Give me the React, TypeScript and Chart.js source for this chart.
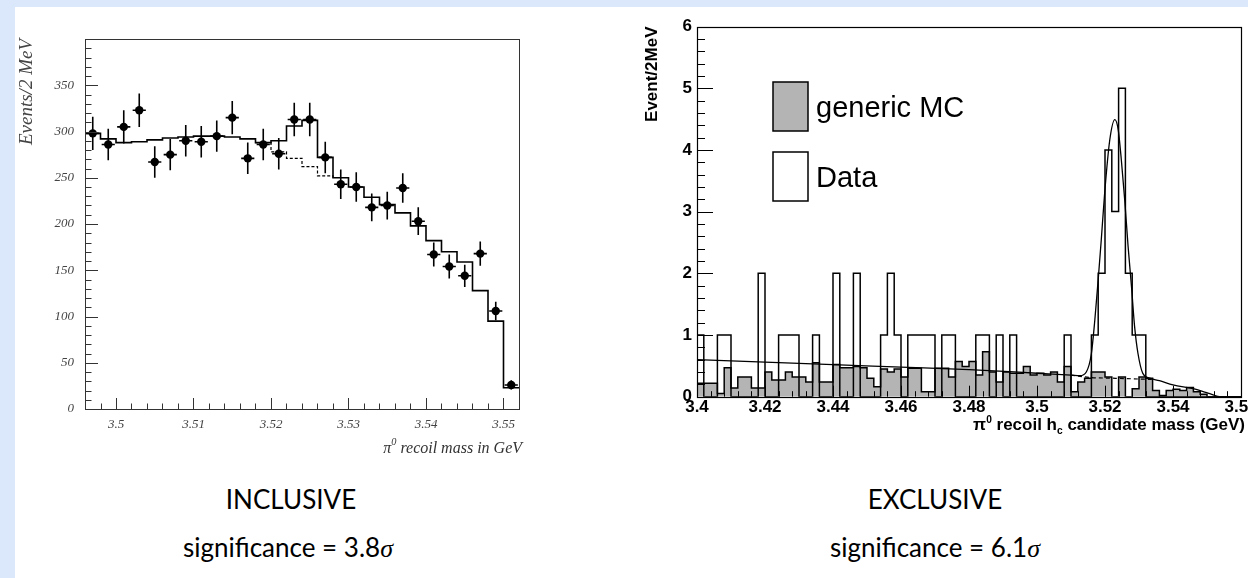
import React, { useEffect, useRef } from 'react';
import { Chart, registerables } from 'chart.js';

Chart.register(...registerables);

// ---------------- INCLUSIVE (left) ----------------
const INC_X = [3.497, 3.499, 3.501, 3.503, 3.505, 3.507, 3.509, 3.511, 3.513, 3.515, 3.517, 3.519, 3.521, 3.523, 3.525, 3.527, 3.529, 3.531, 3.533, 3.535, 3.537, 3.539, 3.541, 3.543, 3.545, 3.547, 3.549, 3.551];
const INC_DATA = [298, 286, 305, 323, 267, 275, 290, 289, 295, 315, 271, 286, 276, 313, 313, 272, 243, 240, 218, 220, 239, 203, 167, 154, 144, 168, 106, 26];
const INC_ERR = [18, 17, 18, 18, 17, 17, 17, 17, 17, 18, 17, 17, 17, 18, 18, 17, 16, 16, 15, 15, 16, 15, 13, 13, 12, 13, 10, 5];
const INC_FIT = [298, 292, 288, 289, 291, 293, 294, 295, 295, 294, 292, 288, 290, 306, 312, 272, 250, 240, 229, 221, 212, 198, 182, 170, 159, 128, 95, 23];
const INC_BKG_X = [3.518, 3.52, 3.522, 3.524, 3.526, 3.528];
const INC_BKG = [288, 278, 271, 262, 252, 250];
const INC_X_TICKS = [3.5, 3.51, 3.52, 3.53, 3.54, 3.55];
const INC_Y_TICKS = [0, 50, 100, 150, 200, 250, 300, 350];
const INC_HALF_BIN = 0.001;
const INC_XERR = 0.00085;

// ---------------- EXCLUSIVE (right) ----------------
const EXC_X_MIN = 3.4;
const EXC_BIN = 0.002;
const EXC_DATA = [
  1, 0, 0, 1, 1, 0, 0, 0, 0, 2,
  0, 0, 1, 1, 1, 0, 0, 1, 0, 0,
  2, 0, 0, 2, 0, 0, 0, 1, 2, 1,
  0, 1, 1, 1, 1, 0, 1, 1, 0, 0,
  0, 1, 1, 0, 1, 0, 1, 0, 0, 0,
  0, 0, 0, 0, 1, 0, 0, 0, 1, 2,
  4, 3, 5, 2, 1, 1, 0, 0, 0, 0,
  0, 0, 0, 0, 0, 0, 0, 0, 0, 0,
];
const EXC_MC = [
  0.22, 0.22, 0.22, 0.05, 0.47, 0.14, 0.32, 0.32, 0.14, 0.14,
  0.40, 0.27, 0.27, 0.40, 0.32, 0.32, 0.24, 0.55, 0.24, 0.24,
  0.52, 0.47, 0.47, 0.49, 0.47, 0.30, 0.16, 0.45, 0.40, 0.45,
  0.32, 0.46, 0.46, 0.08, 0.08, 0.46, 0.46, 0.32, 0.57, 0.49,
  0.57, 0.35, 0.73, 0.40, 0.24, 0.40, 0.38, 0.38, 0.49, 0.35,
  0.38, 0.35, 0.40, 0.24, 0.49, 0.08, 0.24, 0.30, 0.40, 0.40,
  0.32, 0.00, 0.32, 0.00, 0.13, 0.32, 0.30, 0.10, 0.02, 0.10,
  0.12, 0.10, 0.15, 0.08, 0.04, 0.00, 0.00, 0.00, 0.00, 0.00,
];
const EXC_FIT_X = [3.4, 3.42, 3.44, 3.46, 3.48, 3.5, 3.51, 3.5126, 3.5145, 3.516, 3.517, 3.518, 3.5189, 3.5199, 3.5214, 3.5229, 3.5239, 3.5248, 3.5258, 3.5268, 3.5278, 3.5287, 3.5297, 3.5311, 3.5331, 3.536, 3.54, 3.5459, 3.5499, 3.5518, 3.5537, 3.56];
const EXC_FIT_Y = [0.6, 0.56, 0.52, 0.48, 0.44, 0.38, 0.35, 0.34, 0.4, 0.7, 1.24, 1.9, 2.54, 3.3, 4.16, 4.49, 4.32, 3.84, 3.19, 2.43, 1.78, 1.14, 0.7, 0.38, 0.3, 0.26, 0.19, 0.13, 0.065, 0.03, 0, 0];
const EXC_BKG_X = [3.51, 3.516, 3.522, 3.528, 3.534];
const EXC_BKG_Y = [0.35, 0.31, 0.3, 0.29, 0.28];
const EXC_X_TICKS = [3.4, 3.42, 3.44, 3.46, 3.48, 3.5, 3.52, 3.54, 3.56];
const EXC_Y_TICKS = [0, 1, 2, 3, 4, 5, 6];
const LEGEND_LABELS = ['generic MC', 'Data'];

const SERIF = "'Liberation Serif', 'DejaVu Serif', serif";
const SANS = "'Liberation Sans', Arial, sans-serif";
const MC_GREY = '#b4b4b4';

const steps = (a: number, b: number, s: number) =>
  Array.from({ length: Math.round((b - a) / s) + 1 }, (_, i) => +(a + i * s).toFixed(6));

function histPoints(start: number, bin: number, values: number[]) {
  const pts: { x: number; y: number }[] = [{ x: start, y: 0 }];
  values.forEach((v, i) => pts.push({ x: start + i * bin, y: v }));
  const end = start + values.length * bin;
  pts.push({ x: end, y: values[values.length - 1] });
  pts.push({ x: end, y: 0 });
  return pts;
}

type TickCfg = {
  color: string; frameWidth: number;
  xMajor: number[]; xMajorLen: number; xMinor: number[]; xMinorLen: number;
  yMajor: number[]; yMajorLen: number; yMinor: number[]; yMinorLen: number;
};

function makeInnerTicks(o: TickCfg) {
  return {
    id: 'innerTicks',
    afterDatasetsDraw(chart: any) {
      const { ctx, chartArea: a, scales } = chart;
      ctx.save();
      ctx.strokeStyle = o.color;
      ctx.lineWidth = 1;
      ctx.beginPath();
      const xs: [number[], number][] = [[o.xMajor, o.xMajorLen], [o.xMinor, o.xMinorLen]];
      xs.forEach(([vals, len]) => vals.forEach((v) => {
        const p = Math.round(scales.x.getPixelForValue(v)) + 0.5;
        ctx.moveTo(p, a.bottom);
        ctx.lineTo(p, a.bottom - len);
      }));
      const ys: [number[], number][] = [[o.yMajor, o.yMajorLen], [o.yMinor, o.yMinorLen]];
      ys.forEach(([vals, len]) => vals.forEach((v) => {
        const p = Math.round(scales.y.getPixelForValue(v)) + 0.5;
        ctx.moveTo(a.left, p);
        ctx.lineTo(a.left + len, p);
      }));
      ctx.stroke();
      ctx.lineWidth = o.frameWidth;
      ctx.strokeRect(Math.round(a.left) + 0.5, Math.round(a.top) + 0.5, Math.round(a.right - a.left), Math.round(a.bottom - a.top));
      ctx.restore();
    },
  };
}

type Seg = { text: string; k?: number; sh?: number };
type RichCfg = { color: string; style: string; weight: string; size: number; family: string; dx: number; dy: number; segments: Seg[] };

function makeRichTitle(o: RichCfg) {
  return {
    id: 'richTitle',
    afterDraw(chart: any) {
      const { ctx, chartArea: a } = chart;
      const font = (k: number) => `${o.style} ${o.weight} ${(o.size * k).toFixed(1)}px ${o.family}`;
      ctx.save();
      ctx.fillStyle = o.color;
      ctx.textBaseline = 'alphabetic';
      ctx.textAlign = 'left';
      let total = 0;
      o.segments.forEach((s) => { ctx.font = font(s.k ?? 1); total += ctx.measureText(s.text).width; });
      let x = a.right + o.dx - total;
      const y = a.bottom + o.dy;
      o.segments.forEach((s) => {
        ctx.font = font(s.k ?? 1);
        ctx.fillText(s.text, x, y + (s.sh ?? 0) * o.size);
        x += ctx.measureText(s.text).width;
      });
      ctx.restore();
    },
  };
}

type LegendCfg = { x: number; y: number; w: number; h: number; gap: number; textGap: number; size: number; items: { label: string; fill: string }[] };

function makeBoxLegend(o: LegendCfg) {
  return {
    id: 'boxLegend',
    afterDatasetsDraw(chart: any) {
      const { ctx, chartArea: a } = chart;
      ctx.save();
      o.items.forEach((it, i) => {
        const x = a.left + o.x;
        const y = a.top + o.y + i * o.gap;
        ctx.fillStyle = it.fill;
        ctx.fillRect(x, y, o.w, o.h);
        ctx.strokeStyle = '#000';
        ctx.lineWidth = 1.5;
        ctx.strokeRect(x, y, o.w, o.h);
        ctx.fillStyle = '#000';
        ctx.font = `${o.size}px ${SANS}`;
        ctx.textBaseline = 'alphabetic';
        ctx.textAlign = 'left';
        ctx.fillText(it.label, x + o.w + o.textGap, y + o.h / 2 + o.size * 0.36);
      });
      ctx.restore();
    },
  };
}

function InclusiveChart() {
  const ref = useRef<HTMLCanvasElement>(null);
  useEffect(() => {
    const pts = INC_X.map((x, i) => ({ x, y: INC_DATA[i] }));
    const vErr: any[] = [];
    const hErr: any[] = [];
    INC_X.forEach((x, i) => {
      vErr.push({ x, y: INC_DATA[i] - INC_ERR[i] }, { x, y: INC_DATA[i] + INC_ERR[i] }, { x, y: NaN });
      hErr.push({ x: x - INC_XERR, y: INC_DATA[i] }, { x: x + INC_XERR, y: INC_DATA[i] }, { x, y: NaN });
    });
    const fit = INC_X.map((x, i) => ({ x: x - INC_HALF_BIN, y: INC_FIT[i] }));
    fit.push({ x: INC_X[INC_X.length - 1] + INC_HALF_BIN, y: INC_FIT[INC_FIT.length - 1] });
    const bkg = INC_BKG_X.map((x, i) => ({ x, y: INC_BKG[i] }));
    const tickFont = { family: SERIF, style: 'italic' as const, size: 13 };
    const chart = new Chart(ref.current!, {
      type: 'line',
      data: {
        datasets: [
          { data: pts, showLine: false, pointRadius: 4.2, pointBackgroundColor: '#000', pointBorderWidth: 0, pointStyle: 'circle' },
          { data: vErr, borderColor: '#000', borderWidth: 1.6, pointRadius: 0, spanGaps: false },
          { data: hErr, borderColor: '#000', borderWidth: 1.6, pointRadius: 0, spanGaps: false },
          { data: fit, borderColor: '#000', borderWidth: 1.6, pointRadius: 0, stepped: true },
          { data: bkg, borderColor: '#000', borderWidth: 1.2, borderDash: [3, 2], pointRadius: 0, stepped: true },
        ] as any,
      },
      options: {
        animation: false,
        responsive: false,
        events: [],
        layout: { padding: { left: 0, top: 39, right: 41, bottom: 11 } },
        plugins: { legend: { display: false }, tooltip: { enabled: false } },
        scales: {
          x: {
            type: 'linear', min: 3.496, max: 3.552, bounds: 'data',
            grid: { display: false, drawTicks: false }, border: { display: false },
            ticks: { padding: 8, font: tickFont, color: '#444', maxRotation: 0, autoSkip: false, callback: (v: any) => String(+(+v).toFixed(3)) },
            afterBuildTicks: (s: any) => { s.ticks = INC_X_TICKS.map((value) => ({ value })); },
            afterFit: (s: any) => { s.height = 50; s.paddingLeft = 0; s.paddingRight = 0; },
          },
          y: {
            type: 'linear', min: 0, max: 400, bounds: 'data',
            grid: { display: false, drawTicks: false }, border: { display: false },
            ticks: { padding: 11, font: tickFont, color: '#444', autoSkip: false, callback: (v: any) => String(v) },
            afterBuildTicks: (s: any) => { s.ticks = INC_Y_TICKS.map((value) => ({ value })); },
            afterFit: (s: any) => { s.width = 85; s.paddingTop = 0; s.paddingBottom = 0; },
            title: { display: true, text: 'Events/2 MeV', align: 'end', color: '#444', font: { family: SERIF, style: 'italic', size: 19 }, padding: { top: 16, bottom: 0 } },
          },
        } as any,
      },
      plugins: [
        makeInnerTicks({
          color: '#333', frameWidth: 1,
          xMajor: INC_X_TICKS, xMajorLen: 11, xMinor: steps(3.496, 3.552, 0.002), xMinorLen: 5.5,
          yMajor: [...INC_Y_TICKS, 400], yMajorLen: 13, yMinor: steps(0, 400, 10), yMinorLen: 6.5,
        }),
        makeRichTitle({
          color: '#333', style: 'italic', weight: 'normal', size: 16, family: SERIF, dx: 3, dy: 43.5,
          segments: [{ text: 'π' }, { text: '0', k: 0.65, sh: -0.45 }, { text: ' recoil mass in GeV' }],
        }),
      ],
    });
    return () => chart.destroy();
  }, []);
  return <canvas ref={ref} width={560} height={470} style={{ width: 560, height: 470, display: 'block' }} />;
}

function ExclusiveChart() {
  const ref = useRef<HTMLCanvasElement>(null);
  useEffect(() => {
    const mc = histPoints(EXC_X_MIN, EXC_BIN, EXC_MC);
    const dat = histPoints(EXC_X_MIN, EXC_BIN, EXC_DATA);
    const fit = EXC_FIT_X.map((x, i) => ({ x, y: EXC_FIT_Y[i] }));
    const bkg = EXC_BKG_X.map((x, i) => ({ x, y: EXC_BKG_Y[i] }));
    const tickFont = { family: SANS, weight: 'bold' as const, size: 17 };
    const xMax = EXC_X_MIN + EXC_DATA.length * EXC_BIN;
    const chart = new Chart(ref.current!, {
      type: 'line',
      data: {
        datasets: [
          { data: bkg, borderColor: '#000', borderWidth: 1.2, borderDash: [4, 3], pointRadius: 0, cubicInterpolationMode: 'monotone' },
          { data: fit, borderColor: '#000', borderWidth: 1.3, pointRadius: 0, cubicInterpolationMode: 'monotone' },
          { data: dat, borderColor: '#000', borderWidth: 1.5, pointRadius: 0, stepped: true, fill: false },
          { data: mc, borderColor: '#000', borderWidth: 1.5, pointRadius: 0, stepped: true, fill: 'origin', backgroundColor: MC_GREY },
        ] as any,
      },
      options: {
        animation: false,
        responsive: false,
        events: [],
        layout: { padding: { left: 0, top: 26.5, right: 7, bottom: 0 } },
        plugins: { legend: { display: false }, tooltip: { enabled: false } },
        scales: {
          x: {
            type: 'linear', min: EXC_X_MIN, max: xMax, bounds: 'data',
            grid: { display: false, drawTicks: false }, border: { display: false },
            ticks: { padding: 0, font: tickFont, color: '#000', maxRotation: 0, autoSkip: false, callback: (v: any) => String(+(+v).toFixed(3)) },
            afterBuildTicks: (s: any) => { s.ticks = EXC_X_TICKS.map((value) => ({ value })); },
            afterFit: (s: any) => { s.height = 43.3; s.paddingLeft = 0; s.paddingRight = 0; },
          },
          y: {
            type: 'linear', min: 0, max: 6, bounds: 'data',
            grid: { display: false, drawTicks: false }, border: { display: false },
            ticks: { padding: 5, font: tickFont, color: '#000', autoSkip: false, callback: (v: any) => String(v) },
            afterBuildTicks: (s: any) => { s.ticks = EXC_Y_TICKS.map((value) => ({ value })); },
            afterFit: (s: any) => { s.width = 57; s.paddingTop = 0; s.paddingBottom = 0; },
            title: { display: true, text: 'Event/2MeV', align: 'end', color: '#000', font: { family: SANS, weight: 'bold', size: 17 }, padding: { top: 2, bottom: 0 } },
          },
        } as any,
      },
      plugins: [
        makeInnerTicks({
          color: '#000', frameWidth: 1.2,
          xMajor: EXC_X_TICKS, xMajorLen: 11, xMinor: steps(3.4, 3.56, 0.004), xMinorLen: 5.5,
          yMajor: EXC_Y_TICKS, yMajorLen: 16, yMinor: steps(0, 6, 0.2), yMinorLen: 8,
        }),
        makeRichTitle({
          color: '#000', style: 'normal', weight: 'bold', size: 17, family: SANS, dx: 4, dy: 33.5,
          segments: [
            { text: 'π' }, { text: '0', k: 0.6, sh: -0.45 }, { text: ' recoil h' },
            { text: 'c', k: 0.6, sh: 0.25 }, { text: ' candidate mass (GeV)' },
          ],
        }),
        makeBoxLegend({
          x: 76, y: 55.5, w: 35, h: 49, gap: 70, textGap: 8, size: 29,
          items: [
            { label: LEGEND_LABELS[0], fill: MC_GREY },
            { label: LEGEND_LABELS[1], fill: '#fff' },
          ],
        }),
      ],
    });
    return () => chart.destroy();
  }, []);
  return <canvas ref={ref} width={608} height={440} style={{ width: 608, height: 440, display: 'block' }} />;
}

const CAPTION_FONT = "Lato, 'Open Sans', sans-serif";

function Caption({ cx, top, children }: { cx: number; top: number; children: React.ReactNode }) {
  return (
    <div style={{ position: 'absolute', left: cx - 200, width: 400, top, textAlign: 'center', fontFamily: CAPTION_FONT, fontSize: 26, lineHeight: '26px', color: '#000', whiteSpace: 'nowrap' }}>
      {children}
    </div>
  );
}

const Sigma = () => <span style={{ fontFamily: SERIF, fontStyle: 'italic' }}>σ</span>;

export default function App() {
  return (
    <div style={{ position: 'fixed', left: 0, top: 0, width: 1248, height: 578, background: '#dbe8fb', overflow: 'hidden' }}>
      <div style={{ position: 'absolute', left: 15, top: 7, right: 0, bottom: 0, background: '#ffffff' }} />
      <div style={{ position: 'absolute', left: 0, top: 0 }}><InclusiveChart /></div>
      <div style={{ position: 'absolute', left: 640, top: 0 }}><ExclusiveChart /></div>
      <Caption cx={291} top={486}>INCLUSIVE</Caption>
      <Caption cx={288} top={534}>significance = 3.8<Sigma /></Caption>
      <Caption cx={935} top={486}>EXCLUSIVE</Caption>
      <Caption cx={935} top={534}>significance = 6.1<Sigma /></Caption>
    </div>
  );
}
